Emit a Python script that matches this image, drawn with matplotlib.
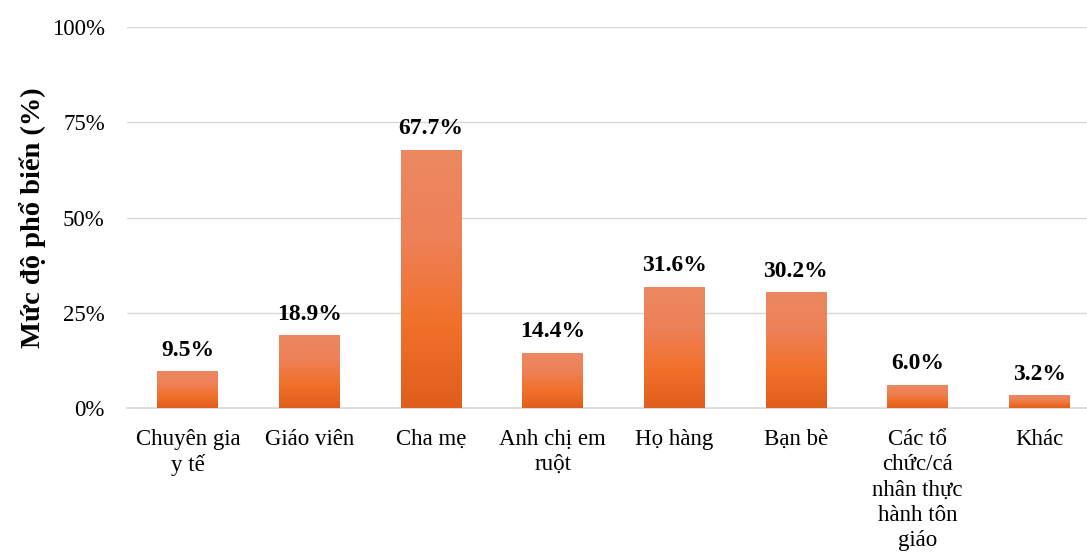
import numpy as np
import matplotlib
matplotlib.use("Agg")
import matplotlib.pyplot as plt
from matplotlib.colors import LinearSegmentedColormap

categories = ["Chuyên gia\ny tế", "Giáo viên", "Cha mẹ", "Anh chị em\nruột",
              "Họ hàng", "Bạn bè", "Các tổ\nchức/cá\nnhân thực\nhành tôn\ngiáo", "Khác"]
values = [9.5, 18.9, 67.7, 14.4, 31.6, 30.2, 6.0, 3.2]
yticks = [0, 25, 50, 75, 100]
ytick_labels = ["0%", "25%", "50%", "75%", "100%"]

plt.rcParams["font.family"] = ["Liberation Serif", "DejaVu Serif"]

fig = plt.figure(figsize=(10.87, 5.6), dpi=100)
ax = fig.add_axes([127 / 1087, 1 - 408 / 560, 973 / 1087, 381 / 560])

x = np.arange(len(categories))
width = 0.5

# vertical orange gradient: light at top, deeper toward the base
grad_cmap = LinearSegmentedColormap.from_list(
    "orange_grad", ["#E05E1C", "#F1712B", "#EE8158", "#EC8861"])
grad = np.linspace(0, 1, 256).reshape(-1, 1)

bars = ax.bar(x, values, width=width, color="none", edgecolor="none", zorder=3)
for rect, v in zip(bars, values):
    x0 = rect.get_x()
    ax.imshow(grad, cmap=grad_cmap, origin="lower", aspect="auto",
              extent=(x0, x0 + rect.get_width(), 0, v), zorder=3,
              interpolation="bicubic")
    ax.annotate(f"{v:.1f}%", (rect.get_x() + rect.get_width() / 2, v),
                xytext=(0, 8), textcoords="offset points",
                ha="center", va="bottom", fontsize=17, fontweight="bold")

ax.set_xlim(-0.5, len(categories) - 0.5)
ax.set_ylim(0, 100)
ax.set_yticks(yticks)
ax.set_yticklabels(ytick_labels, fontsize=16.5)
ax.set_xticks(x)
ax.set_xticklabels(categories, fontsize=16.5, linespacing=1.27)
ax.tick_params(axis="both", length=0)
ax.tick_params(axis="y", pad=16)
ax.tick_params(axis="x", pad=15)

ax.grid(axis="y", color="#D9D9D9", linewidth=1, zorder=0)
for side in ["top", "right", "left"]:
    ax.spines[side].set_visible(False)
ax.spines["bottom"].set_color("#D9D9D9")
ax.spines["bottom"].set_linewidth(1.2)

ax.set_ylabel("Mức độ phổ biến (%)", fontsize=20.5, fontweight="bold", labelpad=4)

fig.savefig("out.png", dpi=100)
